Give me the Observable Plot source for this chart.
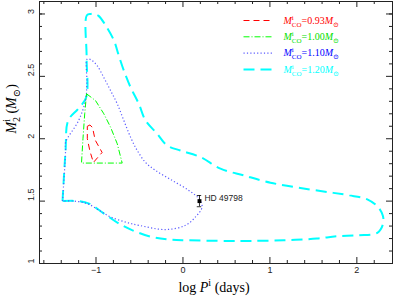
<!DOCTYPE html>
<html><head><meta charset="utf-8">
<script src="https://cdn.jsdelivr.net/npm/d3@7"></script>
<script src="https://cdn.jsdelivr.net/npm/@observablehq/plot@0.6"></script>
<style>body{margin:0;background:#fff}</style>
</head><body><div id="chart"></div>
<script>
// ---- data ----
const red = [[-1.10,2.10],[-1.07,2.11],[-1.04,2.09],[-1.01,1.99],[-0.93,1.89],[-0.98,1.85],[-1.03,1.81],[-1.07,1.90],[-1.10,2.00],[-1.10,2.10]];
const green = [[-1.109,2.36],[-1.006,2.306],[-0.91,2.20],[-0.833,2.093],[-0.756,1.96],[-0.699,1.805],[-1.167,1.805],[-1.15,2.00],[-1.13,2.20],[-1.109,2.36]];
const purple = [[-1.385,1.50],[-1.35,1.906],[-1.35,1.97],[-1.20,2.146],[-1.12,2.31],[-1.105,2.45],[-1.10,2.64],[-1.044,2.626],[-0.987,2.586],[-0.91,2.49],[-0.833,2.386],[-0.756,2.28],[-0.68,2.146],[-0.603,2.013],[-0.526,1.906],[-0.43,1.81],[-0.316,1.746],[-0.124,1.666],[0.067,1.586],[0.182,1.52],[0.22,1.453],[0.144,1.373],[0.029,1.306],[-0.2,1.272],[-0.5,1.305],[-0.65,1.33],[-0.833,1.373],[-0.95,1.42],[-1.10,1.48],[-1.25,1.50],[-1.385,1.50]];
const cyan = [[-1.385,1.50],[-1.35,1.906],[-1.32,2.146],[-1.205,2.24],[-1.113,2.333],[-1.108,2.65],[-1.105,2.99],[-1.06,3.0],[-1.017,3.0],[-0.97,2.985],[-0.90,2.92],[-0.795,2.79],[-0.738,2.666],[-0.68,2.546],[-0.603,2.413],[-0.508,2.28],[-0.43,2.146],[-0.297,2.04],[-0.182,1.946],[-0.03,1.906],[0.201,1.853],[0.431,1.76],[0.699,1.706],[1.006,1.648],[1.35,1.605],[1.73,1.566],[1.914,1.546],[2.12,1.514],[2.247,1.45],[2.30,1.38],[2.30,1.314],[2.236,1.246],[2.017,1.226],[1.764,1.218],[1.54,1.20],[1.16,1.186],[0.78,1.181],[0.50,1.181],[0.05,1.186],[-0.18,1.193],[-0.36,1.213],[-0.58,1.266],[-0.75,1.326],[-0.92,1.406],[-1.08,1.48],[-1.20,1.50],[-1.385,1.50]];
const massLabels = ["0.93", "1.00", "1.10", "1.20"];
const star = [{name: "HD 49798", logP: 0.19, m2: 1.50, err: 0.045}];
const xMajor = [-1, 0, 1, 2];
const xMinor = [-1.6,-1.4,-1.2,-0.8,-0.6,-0.4,-0.2,0.2,0.4,0.6,0.8,1.2,1.4,1.6,1.8,2.2];
const yMajor = [1, 1.5, 2, 2.5, 3];
const yMinor = [1.1,1.2,1.3,1.4,1.6,1.7,1.8,1.9,2.1,2.2,2.3,2.4,2.6,2.7,2.8,2.9,3.0];
const xTickText = ["\u22121", "0", "1", "2"];
const yTickText = ["1", "1.5", "2", "2.5", "3"];

// ---- layout / style ----
const W = 393, H = 299, mL = 39, mR = 1, mT = 1, mB = 36;
const xDom = [-1.65, 2.41], yDom = [1, 3.1];
const iW = W - mL - mR, iH = H - mT - mB;
const px2x = p => xDom[0] + (p - mL) / iW * (xDom[1] - xDom[0]);
const px2y = p => yDom[1] - (p - mT) / iH * (yDom[1] - yDom[0]);
const sans = "'Liberation Sans', Arial, sans-serif";
const serif = "'Liberation Serif', 'DejaVu Serif', serif";

const series = [
  {data: red, stroke: "#ff0000", text: "#ff0000", width: 1, dash: "6,4"},
  {data: green, stroke: "#00ff00", text: "#00e000", width: 1, dash: "6,2,1,2"},
  {data: purple, stroke: "#5a5aff", text: "#0000ff", width: 1.2, dash: "1.2,2.2"},
  {data: cyan, stroke: "#00ffff", text: "#00ffff", width: 2, dash: "11,6"}
];
const drawOrder = [3, 2, 1, 0];

const marks = [];
// ticks on all four sides (inward)
marks.push(Plot.ruleX(xMajor, {x: d => d, insetTop: iH - 6, stroke: "#222"}));
marks.push(Plot.ruleX(xMajor, {x: d => d, insetBottom: iH - 6, stroke: "#222"}));
marks.push(Plot.ruleX(xMinor, {x: d => d, insetTop: iH - 3, stroke: "#222"}));
marks.push(Plot.ruleX(xMinor, {x: d => d, insetBottom: iH - 3, stroke: "#222"}));
marks.push(Plot.ruleY(yMajor, {y: d => d, insetRight: iW - 6, stroke: "#222"}));
marks.push(Plot.ruleY(yMajor, {y: d => d, insetLeft: iW - 6, stroke: "#222"}));
marks.push(Plot.ruleY(yMinor, {y: d => d, insetRight: iW - 3, stroke: "#222"}));
marks.push(Plot.ruleY(yMinor, {y: d => d, insetLeft: iW - 3, stroke: "#222"}));
// tick labels
marks.push(Plot.text(xMajor, {x: d => d, text: (d, i) => xTickText[i], frameAnchor: "bottom", dy: 9, fontSize: 9, fontFamily: sans, fill: "#222"}));
marks.push(Plot.text(yMajor, {y: d => d, text: (d, i) => yTickText[i], frameAnchor: "left", dx: -8.5, rotate: -90, fontSize: 9, fontFamily: sans, fill: "#222"}));
// axis titles
marks.push(Plot.text(["xlabel"], {frameAnchor: "bottom", dy: 28, dx: -2, text: d => "log Pi (days)", fontSize: 14, fontFamily: serif, fill: "#000"}));
marks.push(Plot.text(["ylabel"], {frameAnchor: "left", dx: -28, dy: 1, rotate: -90, text: d => "Mi2 (M)", fontSize: 14, fontFamily: serif, fill: "#000"}));

// curves
for (const k of drawOrder) {
  const s = series[k];
  marks.push(Plot.line(s.data, {x: d => d[0], y: d => d[1], stroke: s.stroke, strokeWidth: s.width, strokeDasharray: s.dash, curve: (k >= 2 ? "catmull-rom" : "linear"), strokeLinecap: "butt"}));
}
// legend
series.forEach((s, i) => {
  const ry = px2y(20 + 16.3 * i);
  marks.push(Plot.link([massLabels[i]], {x1: px2x(243), x2: px2x(272), y1: ry, y2: ry, stroke: s.stroke, strokeWidth: s.width, strokeDasharray: s.dash}));
  marks.push(Plot.text([massLabels[i]], {x: px2x(283), y: ry, text: d => "M=" + d, textAnchor: "start", fontSize: 10, fontFamily: serif, fill: s.text}));
});
// HD 49798
const cap = 2.2 / iW * (xDom[1] - xDom[0]);
marks.push(Plot.ruleX(star, {x: "logP", y1: d => d.m2 - d.err, y2: d => d.m2 + d.err, stroke: "#000", strokeWidth: 0.8}));
marks.push(Plot.ruleY(star, {y: d => d.m2 - d.err, x1: d => d.logP - cap, x2: d => d.logP + cap, stroke: "#000", strokeWidth: 0.8}));
marks.push(Plot.ruleY(star, {y: d => d.m2 + d.err, x1: d => d.logP - cap, x2: d => d.logP + cap, stroke: "#000", strokeWidth: 0.8}));
marks.push(Plot.dot(star, {x: "logP", y: "m2", symbol: "square", r: 2.2, fill: "#000"}));
marks.push(Plot.text(star, {x: "logP", y: "m2", text: "name", dx: 5, dy: -3, textAnchor: "start", fontSize: 8.5, fontFamily: sans, fill: "#222"}));
marks.push(Plot.frame({stroke: "#222"}));

const chart = Plot.plot({
  width: W, height: H, marginLeft: mL, marginRight: mR, marginTop: mT, marginBottom: mB,
  x: {domain: xDom, axis: null},
  y: {domain: yDom, axis: null},
  style: {background: "#fff", overflow: "visible"},
  marks
});
document.getElementById("chart").appendChild(chart);

// rich text (italics, sub/superscripts)
function setRich(el, segs) {
  el.textContent = "";
  let cur = 0;
  for (const s of segs) {
    const ts = document.createElementNS("http://www.w3.org/2000/svg", "tspan");
    ts.textContent = s.t;
    const shift = s.shift || 0;
    const dy = cur - shift;
    if (dy !== 0) ts.setAttribute("dy", dy);
    cur = shift;
    if (s.dx) ts.setAttribute("dx", s.dx);
    if (s.i) ts.setAttribute("font-style", "italic");
    if (s.fs) ts.setAttribute("font-size", s.fs);
    el.appendChild(ts);
  }
}
const rich = {
  "log Pi (days)": [{t: "log "}, {t: "P", i: true}, {t: "i", fs: 10, shift: 6}, {t: " (days)", shift: 0}],
  "Mi2 (M)": [{t: "M", i: true}, {t: "i", fs: 10, shift: 6}, {t: "2", fs: 10, shift: -4, dx: -3}, {t: " (", shift: 0}, {t: "M", i: true}, {t: "\u2299", fs: 10, shift: -4}, {t: ")", shift: 0}]
};
massLabels.forEach(m => {
  rich["M=" + m] = [{t: "M", i: true}, {t: "i", fs: 7, shift: 4}, {t: "CO", fs: 7, shift: -3, dx: -2}, {t: "=" + m, shift: 0}, {t: "M", i: true}, {t: "\u2299", fs: 7, shift: -3}];
});
d3.select(chart).selectAll("text").each(function() {
  const key = this.textContent;
  if (rich[key]) setRich(this, rich[key]);
});
</script>
</body></html>
